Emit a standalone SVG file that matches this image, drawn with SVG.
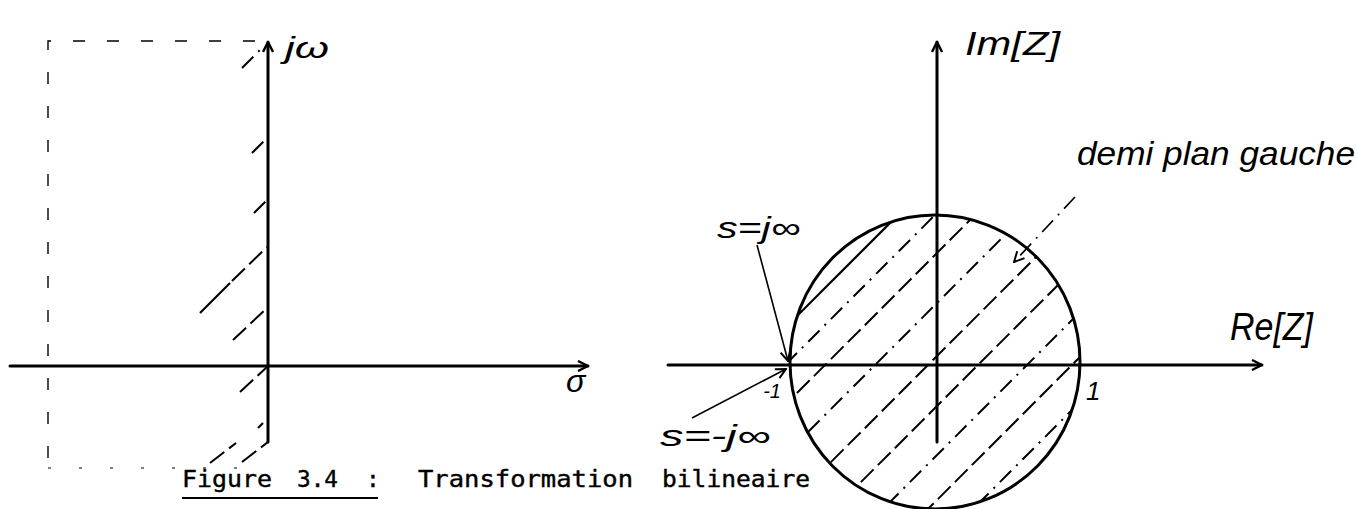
<svg xmlns="http://www.w3.org/2000/svg" width="1357" height="509" viewBox="0 0 1357 509">
<style>
.axis{stroke:#000;stroke-width:3;fill:none;stroke-linecap:round}
.frame{stroke:#000;stroke-width:1.4;fill:none;stroke-dasharray:12 22}
.frame2{stroke:#000;stroke-width:1.2;fill:none;stroke-dasharray:3 28}
.hs{stroke:#000;stroke-width:2.2;fill:none}
.hd{stroke:#000;stroke-width:2;fill:none;stroke-dasharray:16 7 2 7}
.hl{stroke:#000;stroke-width:2;fill:none;stroke-dasharray:18 6}
.lead{stroke:#000;stroke-width:1.6;fill:none}
.hand{font-family:"Liberation Sans","DejaVu Sans",sans-serif;font-style:italic;fill:#000}
.cap{font-family:"DejaVu Sans Mono","Liberation Mono",monospace;font-size:23px;fill:#000;stroke:#000;stroke-width:0.4}
</style>
<defs>
<marker id="open" viewBox="0 0 12 12" refX="11" refY="6" markerWidth="12" markerHeight="12" markerUnits="userSpaceOnUse" orient="auto">
<path d="M1,1 L11,6 L1,11" fill="none" stroke="#000" stroke-width="2.4"/>
</marker>
<marker id="small" viewBox="0 0 12 12" refX="11" refY="6" markerWidth="12" markerHeight="12" markerUnits="userSpaceOnUse" orient="auto">
<path d="M1,1 L11,6 L1,11" fill="none" stroke="#000" stroke-width="2"/>
</marker>
<clipPath id="disk"><ellipse cx="935" cy="362" rx="145" ry="147"/></clipPath>
</defs>

<g id="left-plane">
<path class="frame" d="M255,41 H48 V475"/>
<path class="frame2" d="M48,468 H250"/>
<line class="axis" x1="10" y1="366" x2="588" y2="366" marker-end="url(#open)"/>
<line class="axis" x1="268" y1="442" x2="268" y2="42" marker-end="url(#open)"/>
<line class="hd" x1="242" y1="68" x2="264" y2="46"/>
<line class="hd" x1="252" y1="153" x2="268" y2="137"/>
<line class="hd" x1="254" y1="213" x2="268" y2="199"/>
<line class="hs" x1="200" y1="313" x2="230" y2="283"/>
<line class="hl" x1="232" y1="281" x2="267" y2="247"/>
<line class="hl" x1="233" y1="340" x2="267" y2="308"/>
<line class="hl" x1="240" y1="392" x2="268" y2="366"/>
<line class="hs" x1="258" y1="428" x2="263" y2="423"/>
<line class="hl" x1="210" y1="463" x2="236" y2="443"/>
<line class="hl" x1="242" y1="462" x2="268" y2="442"/>
<text class="hand" x="285" y="58" font-size="30" textLength="44" lengthAdjust="spacingAndGlyphs">jω</text>
<text class="hand" x="566" y="392" font-size="32">σ</text>
</g>

<g id="right-plane">
<g clip-path="url(#disk)">
<line class="hs" x1="763" y1="350" x2="963" y2="150"/>
<line class="hd" x1="763" y1="387" x2="1003" y2="147"/>
<line class="hl" x1="763" y1="427" x2="1043" y2="147"/>
<line class="hd" x1="763" y1="477" x2="1093" y2="147"/>
<line class="hl" x1="763" y1="530" x2="1143" y2="150"/>
<line class="hl" x1="793" y1="550" x2="1193" y2="150"/>
<line class="hd" x1="842" y1="550" x2="1242" y2="150"/>
<line class="hl" x1="887" y1="550" x2="1287" y2="150"/>
<line class="hd" x1="932" y1="550" x2="1332" y2="150"/>
</g>
<ellipse cx="935" cy="362" rx="145" ry="147" fill="none" stroke="#000" stroke-width="3"/>
<line class="axis" x1="668" y1="365" x2="1262" y2="365" marker-end="url(#open)"/>
<line class="axis" x1="937" y1="442" x2="937" y2="42" marker-end="url(#open)"/>
<text class="hand" x="965" y="55" font-size="34" textLength="95" lengthAdjust="spacingAndGlyphs">Im[Z]</text>
<text class="hand" x="1230" y="340" font-size="38" textLength="83" lengthAdjust="spacingAndGlyphs">Re[Z]</text>
<text class="hand" x="1086" y="400" font-size="26">1</text>
<text class="hand" x="781" y="398" font-size="20" text-anchor="end">-1</text>
</g>

<g id="labels">
<text class="hand" x="1077" y="165" font-size="34" textLength="278" lengthAdjust="spacingAndGlyphs">demi plan gauche</text>
<text class="hand" x="717" y="238" font-size="30" textLength="83" lengthAdjust="spacingAndGlyphs">s=j∞</text>
<text class="hand" x="660" y="446" font-size="30" textLength="110" lengthAdjust="spacingAndGlyphs">s=-j∞</text>
</g>

<g id="connectors">
<line class="lead" x1="757" y1="245" x2="788" y2="361" marker-end="url(#small)"/>
<line class="lead" x1="692" y1="418" x2="786" y2="369" marker-end="url(#small)"/>
<line class="hd" x1="1075" y1="197" x2="1014" y2="262" marker-end="url(#small)" style="stroke-width:1.6"/>
</g>

<g id="caption">
<text class="cap" x="182" y="487" textLength="90" lengthAdjust="spacingAndGlyphs">Figure</text>
<text class="cap" x="297" y="487" textLength="41" lengthAdjust="spacingAndGlyphs">3.4</text>
<text class="cap" x="366" y="487">:</text>
<text class="cap" x="418" y="487" textLength="215" lengthAdjust="spacingAndGlyphs">Transformation</text>
<text class="cap" x="662" y="487" textLength="148" lengthAdjust="spacingAndGlyphs">bilineaire</text>
<line x1="182" y1="498" x2="378" y2="498" stroke="#000" stroke-width="2.2"/>
</g>
</svg>
